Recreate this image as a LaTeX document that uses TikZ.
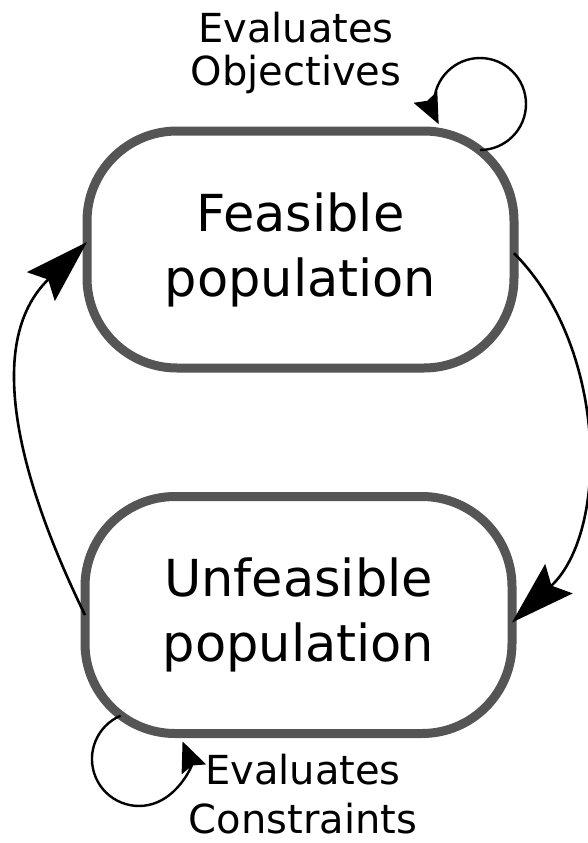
\documentclass[tikz,border=0pt]{standalone}
\usepackage{fontspec}
\setmainfont{DejaVu Sans}
\usetikzlibrary{arrows.meta}
\definecolor{boxgray}{RGB}{85,85,85}
\tikzstyle{population}=[draw=boxgray,line width=9pt,rounded corners=90pt,minimum width=427pt,minimum height=237pt,align=center,inner sep=0pt,outer sep=0pt,font=\fontsize{51}{65}\selectfont]
\tikzstyle{evaluation}=[align=center,inner sep=0pt,font=\fontsize{40}{43}\selectfont]
\tikzstyle{transition}=[-{Stealth[length=64pt,width=40pt,inset=10pt]},line width=2.6pt]
\tikzstyle{selfloop}=[-{Stealth[length=30pt,width=26pt,inset=4pt]},line width=2.4pt]

\begin{document}
\begin{tikzpicture}[x=1pt,y=1pt]
      \useasboundingbox (0,0) rectangle (588,-843);

      \node[population] (feasible) at (300.5,-249.5) {Feasible\\population};
      \node[population] (unfeasible) at (298.5,-615) {Unfeasible\\population};
      \node[evaluation] (objectives) at (296,-53) {Evaluates\\Objectives};
      \node[evaluation,font=\fontsize{40}{49}\selectfont] (constraints) at (303,-794.5) {Evaluates\\Constraints};

      \coordinate (objstart) at (480,-150);
      \coordinate (constart) at (120.6,-715.7);

      \draw[transition] (feasible.-1.5) to[out=-45,in=43,looseness=0.92] (unfeasible.-2);
      \draw[transition] (unfeasible.west) to[out=116,in=224,looseness=1.0] (feasible.178);
      \draw[selfloop] (objstart) arc[start angle=-90,end angle=206,radius=46pt];
      \draw[selfloop] (constart) arc[start angle=113,end angle=382,radius=47pt];
\end{tikzpicture}
\end{document}
